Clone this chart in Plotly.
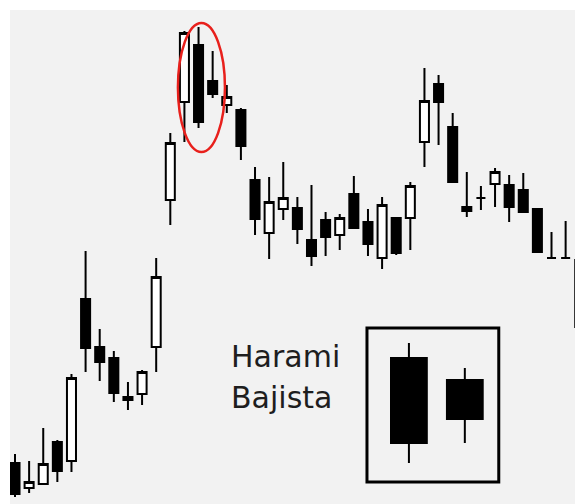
import plotly.graph_objects as go

# ---- main series (candle index, OHLC) ----
idx = list(range(1, 42))
opens = [12.05, 10.8, 11.0, 13.1, 12.15, 20.25, 17.85, 17.3, 15.2, 15.5,
         17.85, 25.2, 30.1, 32.95, 31.15, 29.95, 29.7, 26.2, 23.55, 24.75,
         24.8, 23.2, 24.2, 23.45, 25.5, 24.1, 22.3, 24.3, 24.3, 28.1,
         31.0, 28.85, 24.85, 25.3, 26.0, 25.95, 25.7, 24.75, 22.3, 22.3, 22.2]
highs = [12.5, 12.15, 13.8, 13.2, 16.5, 22.65, 18.75, 17.65, 16.1, 16.7,
         22.3, 28.55, 33.65, 33.85, 32.65, 30.95, 29.8, 26.85, 26.35, 27.1,
         25.35, 25.95, 24.6, 24.5, 26.4, 24.75, 25.35, 24.35, 26.1, 31.8,
         31.45, 29.55, 26.6, 25.9, 26.8, 26.45, 26.55, 24.75, 23.6, 24.15, 22.3]
lows = [10.35, 10.55, 11.0, 11.1, 11.6, 16.6, 16.15, 15.1, 14.7, 14.95,
        16.6, 23.95, 28.1, 28.8, 30.3, 29.55, 27.2, 23.45, 22.25, 24.2,
        23.0, 21.9, 22.4, 22.7, 23.75, 22.4, 21.75, 22.45, 22.7, 26.85,
        27.95, 26.05, 24.35, 24.7, 24.85, 24.1, 24.55, 22.6, 22.3, 22.25, 18.85]
closes = [10.5, 11.1, 12.0, 11.65, 16.3, 17.8, 17.1, 15.55, 15.35, 16.6,
          21.35, 28.05, 33.55, 29.1, 30.5, 30.35, 27.9, 24.25, 25.1, 25.3,
          23.75, 22.4, 23.35, 24.3, 23.8, 23.0, 24.95, 22.55, 25.9, 30.15,
          30.1, 26.1, 24.65, 25.3, 26.6, 24.85, 24.6, 22.6, 22.3, 22.3, 18.85]

# ---- inset example pattern ----
inset_x = [1, 2]
inset_open = [17.3, 16.2]
inset_high = [18.05, 16.8]
inset_low = [12.05, 13.05]
inset_close = [13.05, 14.25]

label_lines = ["Harami", "Bajista"]

# highlighted region (candle index span, price span)
hl_x = [12.54, 15.87]
hl_y = [27.6, 34.05]

fig = go.Figure()
fig.add_trace(go.Candlestick(
    x=idx, open=opens, high=highs, low=lows, close=closes,
    increasing=dict(fillcolor="white", line=dict(color="black", width=2)),
    decreasing=dict(fillcolor="black", line=dict(color="black", width=2)),
    showlegend=False, hoverinfo="skip",
))
fig.add_trace(go.Candlestick(
    x=inset_x, open=inset_open, high=inset_high, low=inset_low, close=inset_close,
    xaxis="x2", yaxis="y2",
    increasing=dict(fillcolor="white", line=dict(color="black", width=2)),
    decreasing=dict(fillcolor="black", line=dict(color="black", width=2)),
    showlegend=False, hoverinfo="skip",
))

axis_off = dict(showgrid=False, zeroline=False, showticklabels=False,
                showline=False, ticks="", fixedrange=True)

# plot area on the page: x 10..583, y 10..504 (494 px tall)
H = 494.0
def py_to_paper(py):
    return (504.0 - py) / H

fig.update_layout(
    width=575, height=496,
    margin=dict(l=2, r=0, t=2, b=0),
    paper_bgcolor="white",
    plot_bgcolor="#f2f2f2",
    boxgap=0.36, boxgroupgap=0,
    xaxis=dict(range=[0.646, 41.23], rangeslider=dict(visible=False), **axis_off),
    yaxis=dict(range=[10.0, 34.7], **axis_off),
    xaxis2=dict(domain=[0.623, 0.853], range=[0.25, 2.607], anchor="y2",
                rangeslider=dict(visible=False), **axis_off),
    yaxis2=dict(domain=[py_to_paper(482), py_to_paper(328)], range=[11.1, 18.8],
                anchor="x2", **axis_off),
    shapes=[
        dict(type="circle", xref="x", yref="y",
             x0=hl_x[0], x1=hl_x[1], y0=hl_y[0], y1=hl_y[1],
             line=dict(color="#e8201c", width=2.5)),
        dict(type="rect", xref="x2 domain", yref="y2 domain",
             x0=0, x1=1, y0=0, y1=1,
             line=dict(color="black", width=3)),
    ],
    annotations=[
        dict(text=label_lines[0], xref="paper", yref="paper", x=0.3815,
             y=py_to_paper(356.5),
             xanchor="left", yanchor="middle", showarrow=False,
             font=dict(family="DejaVu Sans", size=30, color="#1e1e1e")),
        dict(text=label_lines[1], xref="paper", yref="paper", x=0.3815,
             y=py_to_paper(397.5),
             xanchor="left", yanchor="middle", showarrow=False,
             font=dict(family="DejaVu Sans", size=30, color="#1e1e1e")),
    ],
)

fig.write_html("out.html")
